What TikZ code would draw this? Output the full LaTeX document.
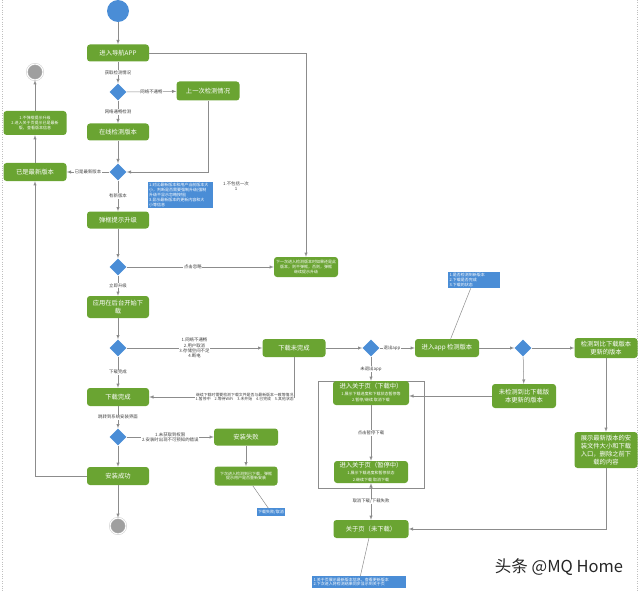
\documentclass[tikz,border=0pt]{standalone}
\usepackage{fontspec}
\setmainfont{Noto Sans CJK SC}
\usetikzlibrary{positioning, shapes.geometric, arrows.meta}

\definecolor{boxgreen}{RGB}{106,164,50}
\definecolor{noteblue}{RGB}{74,141,214}
\definecolor{linegray}{RGB}{140,140,140}
\newcommand{\boxfont}{\fontsize{6.3}{7.6}\selectfont}
\newcommand{\labfont}{\fontsize{4.4}{5.2}\selectfont}
\newcommand{\notefont}{\fontsize{4}{4.9}\selectfont}

\begin{document}
\begin{tikzpicture}[x=1pt,y=-1pt,>=latex,font=\boxfont]

	\tikzstyle{act}=[fill=boxgreen,rounded corners=3pt,text=white,minimum width=62,minimum height=17,inner sep=1pt,align=center]
	\tikzstyle{dec}=[diamond,fill=noteblue,minimum size=17,inner sep=0]
	\tikzstyle{lab}=[fill=white,inner sep=0.6pt,font=\labfont,align=center,text=black!75]
	\tikzstyle{note}=[fill=noteblue,text=white,font=\notefont,align=left,inner sep=1.5pt]
	\tikzstyle{flow}=[draw=linegray,line width=0.5pt]
	\tikzstyle{startc}=[circle,fill=noteblue,minimum size=22,inner sep=0]
	\tikzstyle{endc}=[circle,fill=gray!75,draw=gray!45,double=white,double distance=1pt,minimum size=16,inner sep=0]

	\useasboundingbox (0,0) rectangle (640,591);
	\draw[dotted,gray!50] (2,0) -- (2,591);
	\draw[dotted,gray!50] (637,0) -- (637,591);

	% main column
	\node[startc] (start) at (118,11) {};
	\node[act] (app) at (118,53) {进入导航APP};
	\node[dec] (d1) at (118,92) {};
	\node[act,minimum width=63,minimum height=19] (last) at (208,91) {上一次检测情况};
	\node[act] (online) at (118,132) {在线检测版本};
	\node[dec] (d2) at (118,172) {};
	\node[act,minimum width=63,minimum height=18] (latest) at (35,172) {已是最新版本};
	\node[act,minimum width=63,minimum height=24,font=\notefont] (tip) at (35,123) {1.不弹框提示升级\\2.进入关于页提示已是最新\\版，查看版本信息};
	\node[endc] (endA) at (35,72) {};
	\node[act] (popup) at (118,220) {弹框提示升级};
	\node[note,text width=62] (note1) at (180,195) {1.对比最新版本和用户当前版本大\\小，判断是否需要强制升级(强制\\升级不显示忽略按钮)\\3.显示最新版本的更新内容和大\\小等信息};
	\node[lab,fill=none] (ign) at (236,186) {1.不包括一次\\1};
	\node[dec] (d3) at (118,267) {};
	\node[act,minimum width=64,minimum height=20,font=\notefont] (next) at (306,267) {下一次进入检测版本时如果还是此\\版本，则不弹框，否则，弹框\\继续提示升级};
	\node[act,minimum height=22] (dl) at (118,307) {应用在后台开始下\\载};
	\node[dec] (d4) at (118,348) {};
	\node[act,minimum width=63,minimum height=18] (undone) at (294,348) {下载未完成};
	\node[act,minimum height=18] (done) at (118,397) {下载完成};
	\node[dec] (d7) at (118,437) {};
	\node[act,minimum width=64] (fail) at (246,437) {安装失败};
	\node[act,minimum width=63,minimum height=19,font=\notefont] (failnext) at (246,476) {下次进入检测到已下载，弹框\\提示用户是否重新安装};
	\node[note] (note4) at (271,512) {下载失败/取消};
	\node[act,minimum height=18] (ok) at (118,476) {安装成功};
	\node[endc] (endB) at (118,526) {};

	% right part
	\node[dec] (d5) at (371,348) {};
	\node[act,minimum width=64,minimum height=18] (check) at (447,348) {进入app 检测版本};
	\node[note,text width=49] (note2) at (474,280) {1.是否检测到新版本\\2.下载是否完成\\3.下载的状态};
	\node[dec] (d6) at (523,348) {};
	\node[act,minimum width=63,minimum height=20] (newer) at (606,348) {检测到比下载版本\\更新的版本};
	\node[act,minimum width=64,minimum height=24] (nonewer) at (524,396) {未检测到比下载版\\本更新的版本};
	\node[act,minimum width=63,minimum height=36,font=\fontsize{6.3}{8}\selectfont] (show) at (606,450) {展示最新版本的安\\装文件大小和下载\\入口，删除之前下\\载的内容};
	\node[draw=linegray,line width=0.5pt,minimum width=106,minimum height=107,inner sep=0] (grp) at (371,434.5) {};
	\node[act,minimum width=76,minimum height=24] (about1) at (371,393) {进入关于页（下载中）\\[-1pt]{\notefont 1.展示下载进度和下载状态暂停等}\\[-1pt]{\notefont 2.暂停/继续 取消下载}};
	\node[act,minimum width=74,minimum height=22] (about2) at (371,472) {进入关于页（暂停中）\\[-1pt]{\notefont 1.展示下载进度和暂停状态}\\[-1pt]{\notefont 2.继续下载 取消下载}};
	\node[act,minimum width=75,minimum height=18] (about0) at (371,529) {关于页（未下载）};
	\node[note,text width=91] (note3) at (359,582) {1.关于页展示最新版本信息，查看更新版本\\2.下次进入将检测结果同步显示到关于页};

	\node[font=\fontsize{16.5}{16.5}\selectfont,text=black!85] (mark) at (559,567) {头条 @MQ Home};

	% connectors
	\draw[flow,->] (start) -- (app);
	\draw[flow,->] (app) -- node[lab]{获取检测情况} (d1);
	\draw[flow,->] (app.east) -| (next.north);
	\draw[flow,->] (d1) -- node[lab]{网络不通畅} (last);
	\draw[flow,->] (d1) -- node[lab]{网络通畅检测} (online);
	\draw[flow,->] (last) |- (d2);
	\draw[flow,->] (online) -- (d2);
	\draw[flow,->] (d2) -- node[lab]{已是最新版本} (latest);
	\draw[flow,->] (latest) -- (tip);
	\draw[flow,->] (tip) -- (endA);
	\draw[flow,->] (d2) -- node[lab]{有新版本} (popup);
	\draw[flow,->] (popup) -- (d3);
	\draw[flow,->] (d3) -- node[lab,pos=0.45]{点击忽略} (next);
	\draw[flow,->] (d3) -- node[lab]{立即升级} (dl);
	\draw[flow,->] (dl) -- (d4);
	\draw[flow,->] (d4) -- node[lab]{1.网络不通畅\\2.用户取消\\3.存储空间不足\\4.断电} (undone);
	\draw[flow,->] (d4) -- node[lab]{下载完成} (done);
	\draw[flow,->] (undone) |- node[lab,pos=0.67,font=\fontsize{3.9}{4.6}\selectfont]{继续下载时需要检测下载文件是否与最新版本一致等情况\\1.暂停中\quad 2.等待WiFi\quad 3.未开始\quad 4.已完成\quad 5.其他状态} (done);
	\draw[flow,->] (undone) -- (d5);
	\draw[flow,->] (d5) -- node[lab,pos=0.35]{退出app} (check);
	\draw[flow,->] (d5) -- node[lab]{未退出app} (about1);
	\draw[flow] (note2) -- (check);
	\draw[flow,->] (check) -- (d6);
	\draw[flow,->] (d6) -- (newer);
	\draw[flow,->] (d6) -- (nonewer);
	\draw[flow,->] (nonewer) -- (nonewer -| about1.east);
	\draw[flow,->] (newer) -- (show);
	\draw[flow,->] (show) |- (about0);
	\draw[flow,->] (about1) -- node[lab]{点击暂停下载} (about2);
	\draw[flow,<->] (about2) -- node[lab]{取消下载/下载失败} (about0);
	\draw[flow] (note3) -- (about0);
	\draw[flow,->] (done) -- node[lab]{跳转到系统安装界面} (d7);
	\draw[flow,->] (d7) -- node[lab]{1.未获取到权限\\2.安装时出现不可预知的错误} (fail);
	\draw[flow,->] (d7) -- (ok);
	\draw[flow,->] (fail) -- (failnext);
	\draw[flow] (note4) -- (failnext);
	\draw[flow,->] (ok) -- (endB);
	\draw[flow,->] (ok) -| (latest);
\end{tikzpicture}
\end{document}
